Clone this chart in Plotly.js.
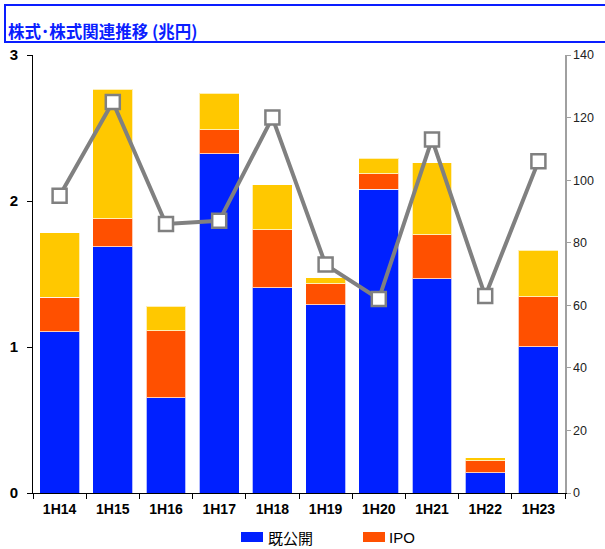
<!DOCTYPE html>
<html><head><meta charset="utf-8">
<script src="https://cdn.plot.ly/plotly-3.0.1.min.js"></script>
<style>html,body{margin:0;padding:0;background:#fff}#chart{width:605px;height:549px}</style>
</head><body><div id="chart"></div>
<script>
const categories = ['1H14','1H15','1H16','1H17','1H18','1H19','1H20','1H21','1H22','1H23'];
const existing = [1.105, 1.687, 0.653, 2.324, 1.406, 1.290, 2.080, 1.468, 0.139, 1.002];
const ipo      = [0.235, 0.192, 0.459, 0.164, 0.397, 0.144, 0.107, 0.301, 0.082, 0.343];
const other    = [0.443, 0.888, 0.167, 0.250, 0.307, 0.041, 0.105, 0.493, 0.019, 0.317];
const lineVals = [95, 125, 86, 87, 120, 73, 62, 113, 63, 106];
const legendNames = ['既公開', 'IPO'];
const legendColors = ['#0020FF', '#FF5000'];

const W = 605, H = 549, L = 33, R = 40, T = 55, B = 56;
const pw = W - L - R, ph = H - T - B;
const px = v => (v - L) / pw;
const py = v => (H - B - v) / ph;

const barLine = {color:'rgba(255,255,255,0.7)', width:1};
const traces = [
  {type:'bar', name:legendNames[0], x:categories, y:existing, marker:{color:legendColors[0], line:barLine}},
  {type:'bar', name:legendNames[1], x:categories, y:ipo, marker:{color:legendColors[1], line:barLine}},
  {type:'bar', name:'その他', x:categories, y:other, marker:{color:'#FFC800', line:barLine}},
  {type:'scatter', mode:'lines+markers', name:'line', x:categories, y:lineVals, yaxis:'y2',
   line:{color:'#808080', width:4},
   marker:{symbol:'square', size:14, color:'#ffffff', line:{color:'#808080', width:2.5}}}
];

// legend drawn as shapes/annotations to reproduce wide swatches
const legShapes = [
  {type:'rect', xref:'paper', yref:'paper', x0:px(241), x1:px(263), y0:py(542), y1:py(532), fillcolor:legendColors[0], line:{width:0}},
  {type:'rect', xref:'paper', yref:'paper', x0:px(363), x1:px(385), y0:py(542), y1:py(532), fillcolor:legendColors[1], line:{width:0}}
];
const legAnn = [
  {xref:'paper', yref:'paper', x:px(266), y:py(537), xanchor:'left', yanchor:'middle', showarrow:false,
   text:legendNames[0], font:{size:15, family:'Noto Sans CJK JP', color:'#000'}},
  {xref:'paper', yref:'paper', x:px(387), y:py(537), xanchor:'left', yanchor:'middle', showarrow:false,
   text:legendNames[1], font:{size:15, family:'Liberation Sans, Arial', color:'#000'}}
];

const layout = {
  width:W, height:H,
  margin:{l:L, r:R, t:T, b:B, autoexpand:false},
  showlegend:false,
  paper_bgcolor:'#ffffff', plot_bgcolor:'#ffffff',
  barmode:'stack', bargap:0.25,
  font:{family:'Liberation Sans, Arial, sans-serif', color:'#000'},
  xaxis:{type:'category', range:[-0.5, 9.5], showline:true, linecolor:'#000', linewidth:1, ticks:'outside', tickson:'boundaries', ticklen:5,
         tickcolor:'#000', tickfont:{size:14, family:'Liberation Sans, Arial', weight:'bold'}, ticklabelstandoff:3,
         showgrid:false, zeroline:false, automargin:false},
  yaxis:{range:[0,3], dtick:1, showline:true, linecolor:'#000', linewidth:1, ticks:'outside', ticklen:5, tickcolor:'#000',
         tickfont:{size:15, family:'Liberation Sans, Arial', weight:'bold'}, ticklabelstandoff:6,
         showgrid:false, zeroline:false, automargin:false},
  yaxis2:{range:[0,140], dtick:20, overlaying:'y', side:'right', showline:true, linecolor:'#a0a0a0', linewidth:1.5,
          ticks:'outside', ticklen:4, tickcolor:'#a0a0a0', tickfont:{size:12.5, color:'#222'}, showgrid:false, zeroline:false,
          automargin:false},
  shapes:[{type:'rect', xref:'paper', yref:'paper', x0:px(5), x1:px(612), y0:py(42), y1:py(5),
           line:{color:'#0a1eff', width:2}, fillcolor:'rgba(0,0,0,0)'}].concat(legShapes),
  annotations:[{xref:'paper', yref:'paper', x:px(6), y:py(31), xanchor:'left', yanchor:'middle', showarrow:false,
                text:'<b>株式･株式関連推移 (兆円)</b>', font:{size:16.5, color:'#0a1eff', family:'Noto Sans CJK JP'}}].concat(legAnn)
};
Plotly.newPlot('chart', traces, layout, {displayModeBar:false, staticPlot:true});
</script></body></html>
